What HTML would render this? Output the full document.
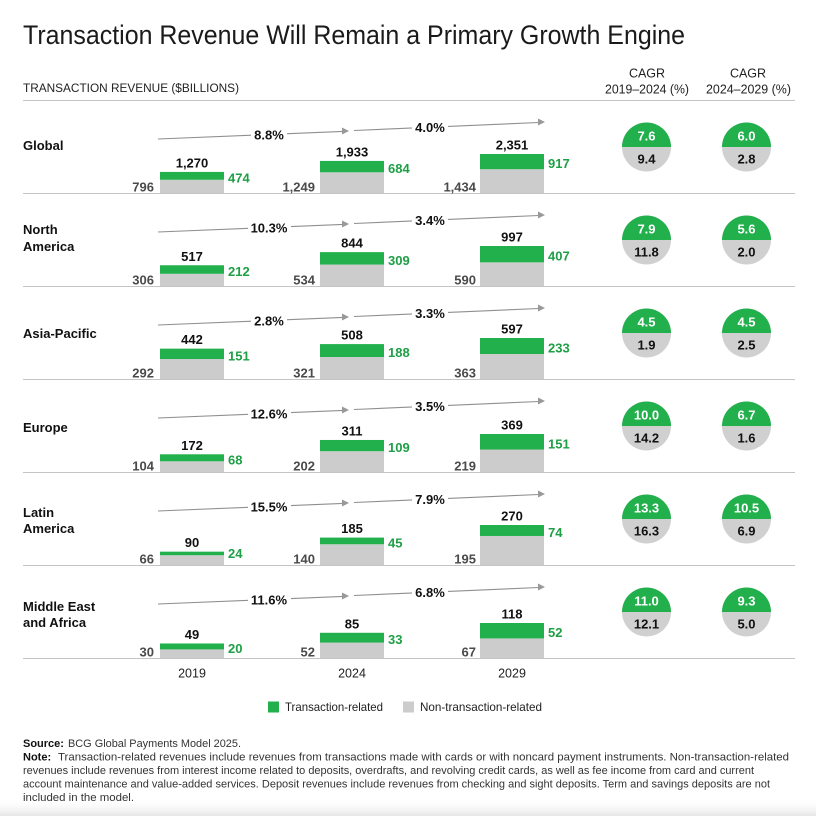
<!DOCTYPE html>
<html><head><meta charset="utf-8"><style>
html,body{margin:0;padding:0;background:#fff;}
svg{display:block;}
text{font-family:"Liberation Sans",Arial,sans-serif;}
.t{font-size:13px;font-weight:bold;fill:#111;}
.g{font-size:13px;font-weight:bold;fill:#1e9f45;}
.n{font-size:13px;font-weight:bold;fill:#4a4a4a;}
.p{font-size:13px;font-weight:bold;fill:#111;}
.cw{font-size:13px;font-weight:bold;fill:#fff;}
.cb{font-size:13px;font-weight:bold;fill:#111;}
.rl{font-size:13px;font-weight:bold;fill:#111;}
.ft{font-size:11px;fill:#333;}
.fb{font-size:11px;font-weight:bold;fill:#111;}
</style></head><body>
<svg width="816" height="816" viewBox="0 0 816 816" xmlns="http://www.w3.org/2000/svg">
<defs>
<linearGradient id="bg" x1="0" y1="0" x2="0" y2="1">
<stop offset="0" stop-color="#fff" stop-opacity="0"/>
<stop offset="1" stop-color="#e6e6e6" stop-opacity="1"/>
</linearGradient>
<g id="ah"><path d="M0,0 L-7,-3.5 L-7,3.5 Z" fill="#999"/></g>
</defs>
<rect width="816" height="816" fill="#fff"/>
<rect x="0" y="798" width="816" height="18" fill="url(#bg)"/>

<!-- Title -->
<text x="23" y="44" font-size="26.5" fill="#1a1a1a" textLength="662" lengthAdjust="spacingAndGlyphs">Transaction Revenue Will Remain a Primary Growth Engine</text>

<!-- Header -->
<text x="23" y="92" font-size="11.5" fill="#222" textLength="216" lengthAdjust="spacingAndGlyphs">TRANSACTION REVENUE ($BILLIONS)</text>
<text x="647" y="77.5" font-size="12.5" fill="#222" text-anchor="middle">CAGR</text>
<text x="605" y="93.5" font-size="12.5" fill="#222" textLength="84" lengthAdjust="spacingAndGlyphs">2019–2024 (%)</text>
<text x="748" y="77.5" font-size="12.5" fill="#222" text-anchor="middle">CAGR</text>
<text x="706" y="93.5" font-size="12.5" fill="#222" textLength="85" lengthAdjust="spacingAndGlyphs">2024–2029 (%)</text>
<line x1="23" y1="100.5" x2="795" y2="100.5" stroke="#c4c4c4" stroke-width="1"/>

<!-- Row lines -->
<g stroke="#c4c4c4" stroke-width="1">
<line x1="23" y1="193.5" x2="795" y2="193.5"/>
<line x1="23" y1="286.5" x2="795" y2="286.5"/>
<line x1="23" y1="379.5" x2="795" y2="379.5"/>
<line x1="23" y1="472.5" x2="795" y2="472.5"/>
<line x1="23" y1="565.5" x2="795" y2="565.5"/>
<line x1="23" y1="658.5" x2="795" y2="658.5"/>
</g>

<!-- Row labels -->
<text class="rl" x="23" y="150">Global</text>
<text class="rl" x="23" y="234">North</text>
<text class="rl" x="23" y="251">America</text>
<text class="rl" x="23" y="338">Asia-Pacific</text>
<text class="rl" x="23" y="432">Europe</text>
<text class="rl" x="23" y="517">Latin</text>
<text class="rl" x="23" y="533">America</text>
<text class="rl" x="23" y="611">Middle East</text>
<text class="rl" x="23" y="627">and Africa</text>

<!-- Arrows (generic per row) -->
<g stroke="#8f8f8f" stroke-width="1.1" fill="none">
<line x1="158" y1="139" x2="343" y2="131.4"/><line x1="354" y1="130.5" x2="539" y2="122.5"/>
<line x1="158" y1="232" x2="343" y2="224.4"/><line x1="354" y1="223.5" x2="539" y2="215.5"/>
<line x1="158" y1="325" x2="343" y2="317.4"/><line x1="354" y1="316.5" x2="539" y2="308.5"/>
<line x1="158" y1="418" x2="343" y2="410.4"/><line x1="354" y1="409.5" x2="539" y2="401.5"/>
<line x1="158" y1="511" x2="343" y2="503.4"/><line x1="354" y1="502.5" x2="539" y2="494.5"/>
<line x1="158" y1="604" x2="343" y2="596.4"/><line x1="354" y1="595.5" x2="539" y2="587.5"/>
</g>
<g>
<use href="#ah" x="349" y="131"/><use href="#ah" x="545" y="122"/>
<use href="#ah" x="349" y="224"/><use href="#ah" x="545" y="215"/>
<use href="#ah" x="349" y="317"/><use href="#ah" x="545" y="308"/>
<use href="#ah" x="349" y="410"/><use href="#ah" x="545" y="401"/>
<use href="#ah" x="349" y="503"/><use href="#ah" x="545" y="494"/>
<use href="#ah" x="349" y="596"/><use href="#ah" x="545" y="587"/>
</g>
<!-- label backgrounds -->
<g fill="#fff">
<rect x="251" y="128" width="36" height="15"/><rect x="412" y="120" width="36" height="15"/>
<rect x="248" y="221" width="43" height="15"/><rect x="412" y="213" width="36" height="15"/>
<rect x="251" y="314" width="36" height="15"/><rect x="412" y="306" width="36" height="15"/>
<rect x="248" y="407" width="43" height="15"/><rect x="412" y="399" width="36" height="15"/>
<rect x="248" y="500" width="43" height="15"/><rect x="412" y="492" width="36" height="15"/>
<rect x="248" y="593" width="43" height="15"/><rect x="412" y="585" width="36" height="15"/>
</g>
<g text-anchor="middle">
<text class="p" x="269" y="139.5">8.8%</text><text class="p" x="430" y="132">4.0%</text>
<text class="p" x="269" y="232.5">10.3%</text><text class="p" x="430" y="225">3.4%</text>
<text class="p" x="269" y="325.5">2.8%</text><text class="p" x="430" y="318">3.3%</text>
<text class="p" x="269" y="418.5">12.6%</text><text class="p" x="430" y="411">3.5%</text>
<text class="p" x="269" y="511.5">15.5%</text><text class="p" x="430" y="504">7.9%</text>
<text class="p" x="269" y="604.5">11.6%</text><text class="p" x="430" y="597">6.8%</text>
</g>

<!-- Bars -->
<g fill="#cccccc">
<rect x="160" y="179.79" width="64" height="13.21"/>
<rect x="320" y="172.28" width="64" height="20.72"/>
<rect x="480" y="169.21" width="64" height="23.79"/>

<rect x="160" y="273.77" width="64" height="12.23"/>
<rect x="320" y="264.54" width="64" height="21.46"/>
<rect x="480" y="262.33" width="64" height="23.67"/>

<rect x="160" y="359.02" width="64" height="19.98"/>
<rect x="320" y="357.02" width="64" height="21.98"/>
<rect x="480" y="354" width="64" height="25"/>

<rect x="160" y="461.29" width="64" height="10.71"/>
<rect x="320" y="451.19" width="64" height="20.81"/>
<rect x="480" y="449.55" width="64" height="22.45"/>

<rect x="160" y="555.23" width="64" height="9.77"/>
<rect x="320" y="544.26" width="64" height="20.74"/>
<rect x="480" y="535.96" width="64" height="29.04"/>

<rect x="160" y="649.4" width="64" height="8.6"/>
<rect x="320" y="642.58" width="64" height="15.42"/>
<rect x="480" y="638.42" width="64" height="19.58"/>
</g>
<g fill="#21b04b">
<rect x="160" y="171.93" width="64" height="7.86"/>
<rect x="320" y="160.93" width="64" height="11.35"/>
<rect x="480" y="154" width="64" height="15.21"/>

<rect x="160" y="265.26" width="64" height="8.51"/>
<rect x="320" y="252.14" width="64" height="12.4"/>
<rect x="480" y="246" width="64" height="16.33"/>

<rect x="160" y="348.65" width="64" height="10.37"/>
<rect x="320" y="344.11" width="64" height="12.91"/>
<rect x="480" y="338" width="64" height="16"/>

<rect x="160" y="454.29" width="64" height="7"/>
<rect x="320" y="439.97" width="64" height="11.22"/>
<rect x="480" y="434" width="64" height="15.55"/>

<rect x="160" y="551.67" width="64" height="3.56"/>
<rect x="320" y="537.59" width="64" height="6.67"/>
<rect x="480" y="525" width="64" height="10.96"/>

<rect x="160" y="643.47" width="64" height="5.93"/>
<rect x="320" y="632.79" width="64" height="9.79"/>
<rect x="480" y="623" width="64" height="15.42"/>
</g>

<!-- Total labels -->
<g text-anchor="middle">
<text class="t" x="192" y="167.4">1,270</text><text class="t" x="352" y="156.4">1,933</text><text class="t" x="512" y="149.5">2,351</text>
<text class="t" x="192" y="260.8">517</text><text class="t" x="352" y="247.6">844</text><text class="t" x="512" y="241.5">997</text>
<text class="t" x="192" y="344.2">442</text><text class="t" x="352" y="339.6">508</text><text class="t" x="512" y="333.5">597</text>
<text class="t" x="192" y="449.8">172</text><text class="t" x="352" y="435.5">311</text><text class="t" x="512" y="429.5">369</text>
<text class="t" x="192" y="547.2">90</text><text class="t" x="352" y="533.1">185</text><text class="t" x="512" y="520.5">270</text>
<text class="t" x="192" y="639">49</text><text class="t" x="352" y="628.3">85</text><text class="t" x="512" y="618.5">118</text>
</g>
<!-- Gray labels -->
<g text-anchor="end">
<text class="n" x="154" y="191.5">796</text><text class="n" x="315" y="191.5">1,249</text><text class="n" x="476" y="191.5">1,434</text>
<text class="n" x="154" y="284.5">306</text><text class="n" x="315" y="284.5">534</text><text class="n" x="476" y="284.5">590</text>
<text class="n" x="154" y="377.5">292</text><text class="n" x="315" y="377.5">321</text><text class="n" x="476" y="377.5">363</text>
<text class="n" x="154" y="470.5">104</text><text class="n" x="315" y="470.5">202</text><text class="n" x="476" y="470.5">219</text>
<text class="n" x="154" y="563.5">66</text><text class="n" x="315" y="563.5">140</text><text class="n" x="476" y="563.5">195</text>
<text class="n" x="154" y="656.5">30</text><text class="n" x="315" y="656.5">52</text><text class="n" x="476" y="656.5">67</text>
</g>
<!-- Green labels -->
<g>
<text class="g" x="228" y="182.4">474</text><text class="g" x="388" y="173.1">684</text><text class="g" x="548" y="168.1">917</text>
<text class="g" x="228" y="276">212</text><text class="g" x="388" y="264.8">309</text><text class="g" x="548" y="260.7">407</text>
<text class="g" x="228" y="360.3">151</text><text class="g" x="388" y="357.1">188</text><text class="g" x="548" y="352.5">233</text>
<text class="g" x="228" y="464.3">68</text><text class="g" x="388" y="452.1">109</text><text class="g" x="548" y="448.3">151</text>
<text class="g" x="228" y="558">24</text><text class="g" x="388" y="547.4">45</text><text class="g" x="548" y="537">74</text>
<text class="g" x="228" y="652.9">20</text><text class="g" x="388" y="644.2">33</text><text class="g" x="548" y="637.2">52</text>
</g>

<!-- CAGR circles -->
<g>
<circle cx="646.5" cy="147" r="24.5" fill="#d0d0d0"/><path d="M622,147 A24.5,24.5 0 0 1 671,147 Z" fill="#21b04b"/>
<circle cx="746.5" cy="147" r="24.5" fill="#d0d0d0"/><path d="M722,147 A24.5,24.5 0 0 1 771,147 Z" fill="#21b04b"/>
<circle cx="646.5" cy="240" r="24.5" fill="#d0d0d0"/><path d="M622,240 A24.5,24.5 0 0 1 671,240 Z" fill="#21b04b"/>
<circle cx="746.5" cy="240" r="24.5" fill="#d0d0d0"/><path d="M722,240 A24.5,24.5 0 0 1 771,240 Z" fill="#21b04b"/>
<circle cx="646.5" cy="333" r="24.5" fill="#d0d0d0"/><path d="M622,333 A24.5,24.5 0 0 1 671,333 Z" fill="#21b04b"/>
<circle cx="746.5" cy="333" r="24.5" fill="#d0d0d0"/><path d="M722,333 A24.5,24.5 0 0 1 771,333 Z" fill="#21b04b"/>
<circle cx="646.5" cy="426" r="24.5" fill="#d0d0d0"/><path d="M622,426 A24.5,24.5 0 0 1 671,426 Z" fill="#21b04b"/>
<circle cx="746.5" cy="426" r="24.5" fill="#d0d0d0"/><path d="M722,426 A24.5,24.5 0 0 1 771,426 Z" fill="#21b04b"/>
<circle cx="646.5" cy="519" r="24.5" fill="#d0d0d0"/><path d="M622,519 A24.5,24.5 0 0 1 671,519 Z" fill="#21b04b"/>
<circle cx="746.5" cy="519" r="24.5" fill="#d0d0d0"/><path d="M722,519 A24.5,24.5 0 0 1 771,519 Z" fill="#21b04b"/>
<circle cx="646.5" cy="612" r="24.5" fill="#d0d0d0"/><path d="M622,612 A24.5,24.5 0 0 1 671,612 Z" fill="#21b04b"/>
<circle cx="746.5" cy="612" r="24.5" fill="#d0d0d0"/><path d="M722,612 A24.5,24.5 0 0 1 771,612 Z" fill="#21b04b"/>
</g>
<g text-anchor="middle">
<text class="cw" x="646.5" y="140.5">7.6</text><text class="cb" x="646.5" y="163.5">9.4</text>
<text class="cw" x="746.5" y="140.5">6.0</text><text class="cb" x="746.5" y="163.5">2.8</text>
<text class="cw" x="646.5" y="233.5">7.9</text><text class="cb" x="646.5" y="256.5">11.8</text>
<text class="cw" x="746.5" y="233.5">5.6</text><text class="cb" x="746.5" y="256.5">2.0</text>
<text class="cw" x="646.5" y="326.5">4.5</text><text class="cb" x="646.5" y="349.5">1.9</text>
<text class="cw" x="746.5" y="326.5">4.5</text><text class="cb" x="746.5" y="349.5">2.5</text>
<text class="cw" x="646.5" y="419.5">10.0</text><text class="cb" x="646.5" y="442.5">14.2</text>
<text class="cw" x="746.5" y="419.5">6.7</text><text class="cb" x="746.5" y="442.5">1.6</text>
<text class="cw" x="646.5" y="512.5">13.3</text><text class="cb" x="646.5" y="535.5">16.3</text>
<text class="cw" x="746.5" y="512.5">10.5</text><text class="cb" x="746.5" y="535.5">6.9</text>
<text class="cw" x="646.5" y="605.5">11.0</text><text class="cb" x="646.5" y="628.5">12.1</text>
<text class="cw" x="746.5" y="605.5">9.3</text><text class="cb" x="746.5" y="628.5">5.0</text>
</g>

<!-- Year labels -->
<g text-anchor="middle" font-size="12.5" fill="#222">
<text x="192" y="677.5">2019</text>
<text x="352" y="677.5">2024</text>
<text x="512" y="677.5">2029</text>
</g>

<!-- Legend -->
<rect x="268" y="701.5" width="11" height="11" fill="#21b04b"/>
<text x="285" y="711" font-size="12" fill="#222" textLength="98" lengthAdjust="spacingAndGlyphs">Transaction-related</text>
<rect x="403" y="701.5" width="11" height="11" fill="#cccccc"/>
<text x="420" y="711" font-size="12" fill="#222" textLength="122" lengthAdjust="spacingAndGlyphs">Non-transaction-related</text>

<!-- Footnote -->
<text class="fb" x="23" y="747">Source:</text>
<text class="ft" x="68" y="747" textLength="173" lengthAdjust="spacingAndGlyphs">BCG Global Payments Model 2025.</text>
<text class="fb" x="23" y="760.5">Note:</text>
<text class="ft" x="58" y="760.5" textLength="731" lengthAdjust="spacingAndGlyphs">Transaction-related revenues include revenues from transactions made with cards or with noncard payment instruments. Non-transaction-related</text>
<text class="ft" x="23" y="774" textLength="731" lengthAdjust="spacingAndGlyphs">revenues include revenues from interest income related to deposits, overdrafts, and revolving credit cards, as well as fee income from card and current</text>
<text class="ft" x="23" y="787.5" textLength="747" lengthAdjust="spacingAndGlyphs">account maintenance and value-added services. Deposit revenues include revenues from checking and sight deposits. Term and savings deposits are not</text>
<text class="ft" x="23" y="801" textLength="111" lengthAdjust="spacingAndGlyphs">included in the model.</text>
</svg>
</body></html>
